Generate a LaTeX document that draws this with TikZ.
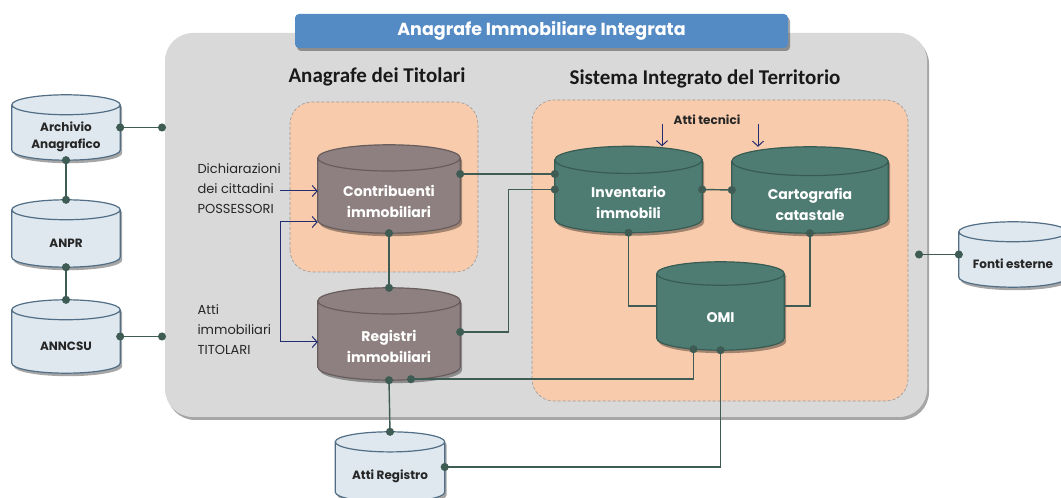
\documentclass[tikz,border=0pt]{standalone}
\usepackage{fontspec}
\setmainfont{Poppins}
\newfontfamily\headfont{Carlito}
\usetikzlibrary{arrows.meta,calc,shadows}

\definecolor{panelgray}{RGB}{217,217,217}
\definecolor{peach}{RGB}{247,203,172}
\definecolor{titleblue}{RGB}{84,139,196}
\definecolor{mauve}{RGB}{142,128,128}
\definecolor{mauveline}{RGB}{104,92,92}
\definecolor{drumteal}{RGB}{78,124,114}
\definecolor{tealline}{RGB}{56,92,84}
\definecolor{paleblue}{RGB}{222,232,238}
\definecolor{paleline}{RGB}{82,110,134}
\definecolor{linkgreen}{RGB}{62,92,84}
\definecolor{navy}{RGB}{36,44,112}

\pgfdeclarelayer{bg}
\pgfdeclarelayer{mid}
\pgfsetlayers{bg,mid,main}

\tikzset{
  link/.style={draw=linkgreen,line width=1.4pt},
  dotboth/.style={link,{Circle[length=8pt]}-{Circle[length=8pt]},shorten <=-4pt,shorten >=-4pt},
  dotstart/.style={link,{Circle[length=8pt]}-,shorten <=-4pt},
  arr/.style={draw=navy,line width=1pt,-{Straight Barb[length=5pt,width=11pt]}},
  zone/.style={fill=peach,draw=gray!80,densely dashed,line width=.6pt,rounded corners=22pt},
  softshadow/.style={drop shadow={shadow xshift=2pt,shadow yshift=-3pt,opacity=.35,fill=black}},
  drumcore/.style={inner sep=0pt},
  dbbrown/.style={fill=mauve,draw=mauveline,line width=1.2pt,softshadow},
  dbteal/.style={fill=drumteal,draw=tealline,line width=1.2pt,softshadow},
  dbpale/.style={fill=paleblue,draw=paleline,line width=1.2pt,softshadow},
  dbbrown txt/.style={text=white,font=\fontsize{14}{21}\selectfont\bfseries,align=center},
  dbteal txt/.style={dbbrown txt},
  dbpale txt/.style={text=black!85,font=\fontsize{12}{17}\selectfont\bfseries,align=center},
  note/.style={text=black!85,font=\fontsize{13}{20}\selectfont,align=left},
  head/.style={text=black!90,font=\headfont\fontsize{21}{24}\selectfont\bfseries},
  titlebar/.style={fill=titleblue,rounded corners=4pt,minimum width=493pt,minimum height=34pt,
    text=white,font=\fontsize{17.5}{20}\selectfont\bfseries,softshadow}
}

% drum: name, position, width, height, look, text
\newcommand\drum[6]{%
  \node[drumcore,minimum width=#3,minimum height=#4] (#1) at (#2) {};
  \begin{pgfonlayer}{mid}
  \path[#5] let \p1=(#1.north west), \p2=(#1.south east),
      \n1={(\x2-\x1)/2}, \n2={0.092*(\x2-\x1)} in
    (\x1,\y1-\n2*1pt) -- (\x1,\y2+\n2*1pt)
      arc[start angle=180,end angle=360,x radius=\n1,y radius=\n2]
      -- (\x2,\y1-\n2*1pt)
      arc[start angle=0,end angle=180,x radius=\n1,y radius=\n2] -- cycle
    (\x1,\y1-\n2*1pt) arc[start angle=180,end angle=360,x radius=\n1,y radius=\n2];
  \end{pgfonlayer}
  \node[#5 txt] (#1-t) at ([yshift={-0.09*#3}]#1.center) {#6};
}

\begin{document}
\begin{tikzpicture}[x=1pt,y=1pt]
\useasboundingbox (0,0) rectangle (1061,498);
%
\begin{pgfonlayer}{bg}
\fill[panelgray,rounded corners=28pt,softshadow] (165,81) rectangle (927,465);
\draw[zone] (290,226) rectangle (478,396);
\draw[zone] (532,97) rectangle (908,398);
\end{pgfonlayer}
%
\node[titlebar] (title) at (541.5,467) {Anagrafe Immobiliare Integrata};
\node[head] (titolari) at (377,421) {Anagrafe dei Titolari};
\node[head] (sistema) at (705,419) {Sistema Integrato del Territorio};
%
\drum{arch}{66,370.5}{108}{65}{dbpale}{Archivio\\Anagrafico}
\drum{anpr}{66,264.5}{108}{67}{dbpale}{ANPR}
\drum{anncsu}{66,161.5}{108}{73}{dbpale}{ANNCSU}
\drum{attireg}{390,31}{109}{70}{dbpale}{Atti Registro}
\drum{fonti}{1013,243.5}{108}{65}{dbpale}{Fonti esterne}
%
\drum{contr}{389,309}{142}{88}{dbbrown}{Contribuenti\\immobiliari}
\drum{regis}{389,164}{142}{92}{dbbrown}{Registri\\immobiliari}
%
\drum{inv}{628.5,308.5}{147}{86}{dbteal}{Inventario\\immobili}
\drum{carto}{810,308}{156}{86}{dbteal}{Cartografia\\catastale}
\drum{omi}{720.5,192}{127}{88}{dbteal}{OMI}
%
\coordinate (edgeA) at (162,370.5);
\coordinate (edgeB) at (162,161.5);
\coordinate (edgeC) at (919,243.5);
\draw[dotboth] (arch.east) -- (edgeA);
\draw[dotboth] (anncsu.east) -- (edgeB);
\draw[dotboth] (fonti.west) -- (edgeC);
\draw[dotboth] (arch.south) -- (anpr.north);
\draw[dotboth] (anpr.south) -- (anncsu.north);
%
\draw[dotboth] (contr.south) -- (regis.north);
\draw[dotboth] ([yshift=15pt]contr.east) -- ([yshift=15pt]contr.east -| inv.west);
\draw[dotboth] ([yshift=2pt]regis.east) -- ++(48,0) |- (inv.west);
\draw[dotboth] (regis.south) -- (attireg.north);
\draw[dotboth] ([xshift=22pt,yshift=1pt]regis.south) -| ([xshift=-27pt,yshift=1pt]omi.south);
\draw[dotboth] (omi.south) |- (attireg.east);
\draw[dotboth] (inv.east) -- (carto.west);
\draw[dotstart] (inv.south) |- (omi.west);
\draw[dotstart] (carto.south) |- (omi.east);
%
\node[note,anchor=west] (dich) at (194,309.5) {Dichiarazioni\\dei cittadini\\POSSESSORI};
\node[note,anchor=west] (titol) at (194,168) {Atti\\immobiliari\\TITOLARI};
\node[text=black!85,font=\fontsize{12}{14}\selectfont\bfseries] (tecnici) at (707,378) {Atti tecnici};
%
\coordinate (dichend) at (280,307);
\coordinate (titend) at (280,156);
\coordinate (tecA) at (662,374);
\coordinate (tecB) at (758,374);
\draw[arr] (dichend) -- (dichend -| contr.west);
\draw[arr] (titend) -- (titend -| regis.west);
\draw[arr] (titend) |- ([yshift=-33pt]contr.west);
\draw[arr] (tecA) -- (tecA |- inv.north);
\draw[arr] (tecB) -- (tecB |- carto.north);
%
\end{tikzpicture}
\end{document}
